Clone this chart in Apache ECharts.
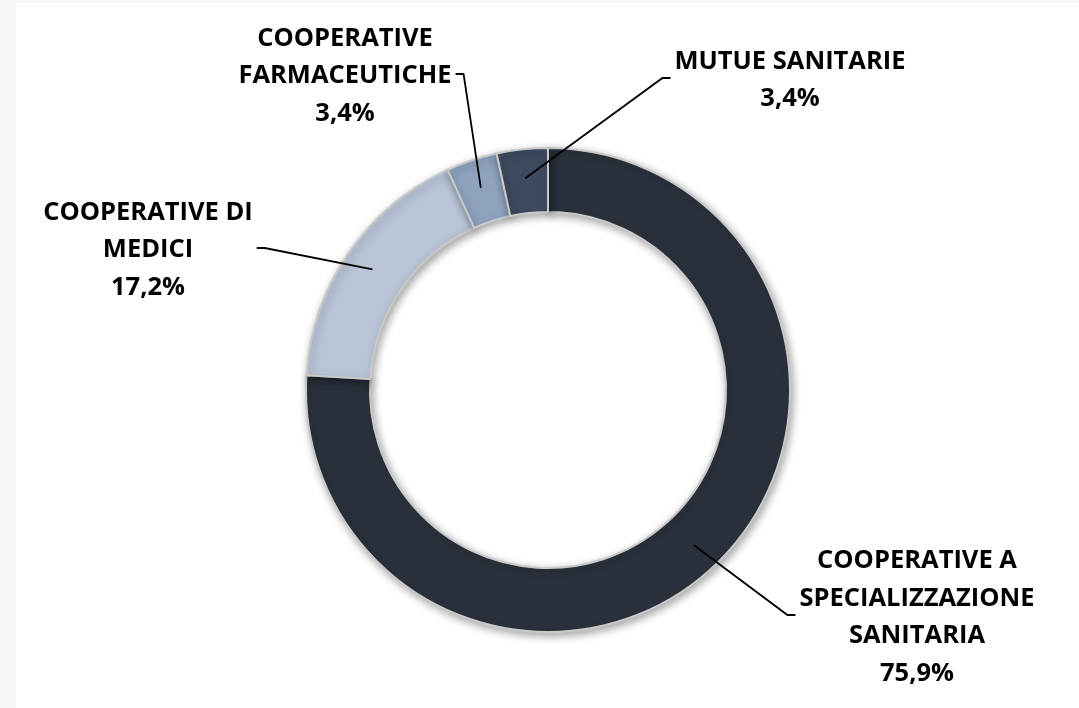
<!DOCTYPE html>
<html>
<head>
<meta charset="utf-8">
<script src="https://cdn.jsdelivr.net/npm/echarts@6/dist/echarts.min.js"></script>
<style>
html,body{margin:0;padding:0;background:#fff;}
#chart{width:1079px;height:708px;}
</style>
</head>
<body>
<div id="chart"></div>
<script>
// ---- data ----
const categories = [
  'COOPERATIVE A\nSPECIALIZZAZIONE\nSANITARIA',
  'COOPERATIVE DI\nMEDICI',
  'COOPERATIVE\nFARMACEUTICHE',
  'MUTUE SANITARIE'
];
const values = [75.9, 17.2, 3.4, 3.4];
const colors = ['#2b313c', '#b9c5d7', '#8fa3bf', '#3e4a5f'];

// ---- layout (label placement, not data) ----
const CENTER = [548, 390];
const R_IN = 178, R_OUT = 242, R_LINE = 213;
const labelPos = [
  {x: 917, y: 617, side: 'left'},
  {x: 148, y: 250, side: 'right'},
  {x: 345, y: 76, side: 'right'},
  {x: 790, y: 80, side: 'left'}
];

const chart = echarts.init(document.getElementById('chart'), null, {renderer: 'canvas'});
const fmt = v => v.toFixed(1).replace('.', ',') + '%';
const pieData = categories.map((c, i) => ({name: c, value: values[i], itemStyle: {color: colors[i]}}));

chart.setOption({
  backgroundColor: '#ffffff',
  animation: false,
  graphic: [
    {type: 'rect', left: 0, top: 0, shape: {width: 16, height: 708}, style: {fill: '#f7f7f7'}, silent: true},
    {type: 'rect', left: 0, top: 0, shape: {width: 1079, height: 3}, style: {fill: '#f7f7f7'}, silent: true}
  ],
  series: [{
    type: 'pie',
    z: 2,
    center: CENTER,
    radius: [R_IN, R_OUT],
    startAngle: 90,
    clockwise: true,
    silent: true,
    data: pieData,
    itemStyle: {
      borderColor: '#c9c9c9',
      borderWidth: 2,
      shadowBlur: 8,
      shadowColor: 'rgba(0,0,0,0.35)',
      shadowOffsetX: 2,
      shadowOffsetY: 3
    },
    label: {show: false},
    labelLine: {show: false}
  }, {
    // overlay series carrying labels and leader lines so they sit above the ring
    type: 'pie',
    z: 5,
    center: CENTER,
    radius: [R_IN, R_OUT],
    startAngle: 90,
    clockwise: true,
    silent: true,
    avoidLabelOverlap: false,
    data: categories.map((c, i) => ({name: c, value: values[i]})),
    itemStyle: {color: 'rgba(0,0,0,0)', borderWidth: 0},
    label: {
      show: true,
      position: 'outside',
      formatter: p => p.name + '\n' + fmt(p.value),
      color: '#000',
      fontFamily: 'Open Sans',
      fontWeight: 'bold',
      fontSize: 25.5,
      lineHeight: 37.5,
      align: 'center'
    },
    labelLine: {
      show: true,
      lineStyle: {color: '#000', width: 1.8}
    },
    labelLayout: function (params) {
      const pos = labelPos[params.dataIndex];
      const w = params.labelRect.width;
      const p0 = params.labelLinePoints && params.labelLinePoints[0];
      const out = {x: pos.x, y: pos.y, align: 'center', verticalAlign: 'middle'};
      if (p0) {
        const dx = p0[0] - CENTER[0], dy = p0[1] - CENTER[1];
        const d = Math.sqrt(dx * dx + dy * dy) || 1;
        const start = [CENTER[0] + dx / d * R_LINE, CENTER[1] + dy / d * R_LINE];
        const endX = pos.side === 'left' ? pos.x - w / 2 - 4 : pos.x + w / 2 + 4;
        const elbowX = pos.side === 'left' ? endX - 8 : endX + 8;
        out.labelLinePoints = [start, [elbowX, pos.y - 2], [endX, pos.y - 2]];
      }
      return out;
    }
  }]
});
</script>
</body>
</html>
